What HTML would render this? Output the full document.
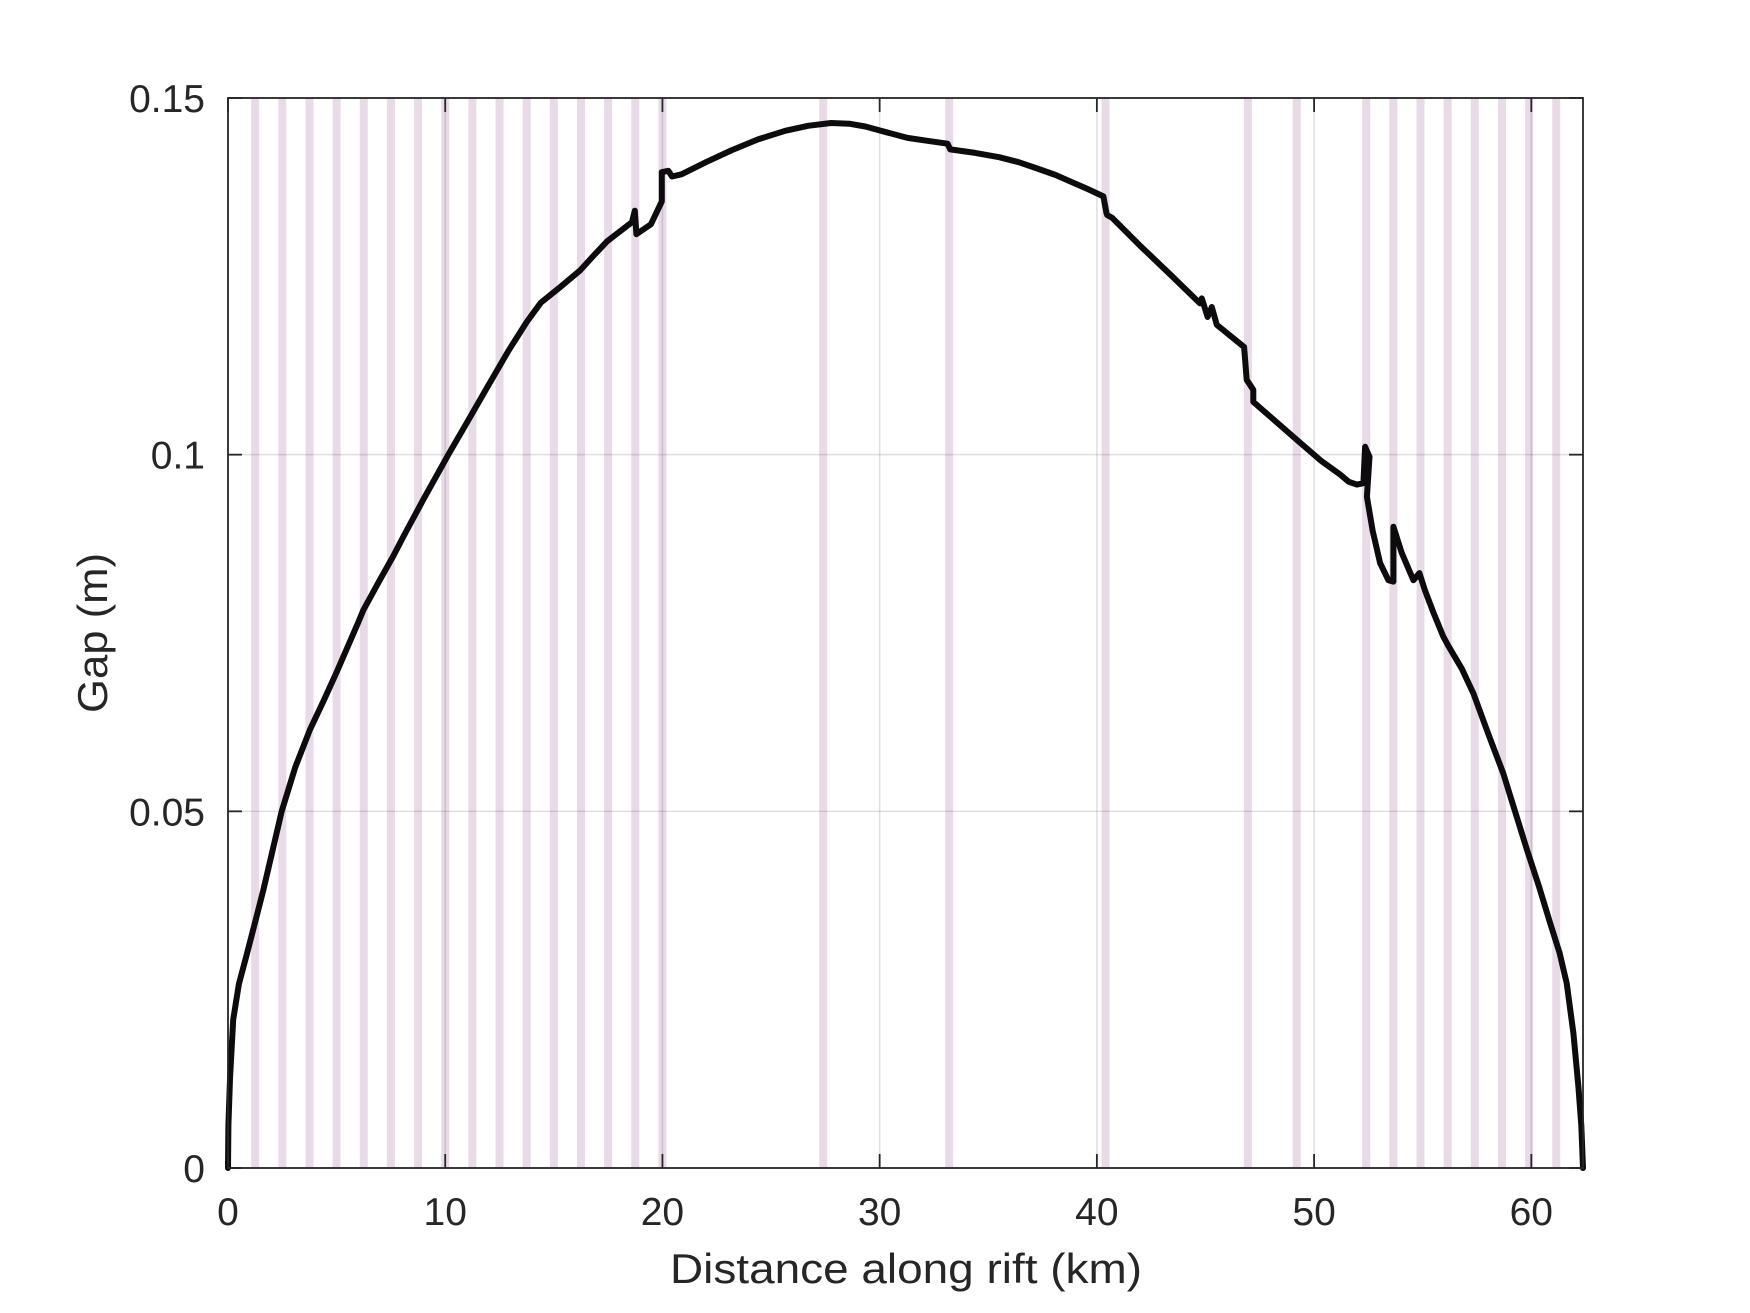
<!DOCTYPE html>
<html><head><meta charset="utf-8"><style>
html,body{margin:0;padding:0;background:#fff;}
svg{display:block;}
text{font-family:"Liberation Sans",sans-serif;fill:#262626;}
</style></head><body>
<svg id="chart" width="1750" height="1313" viewBox="0 0 1750 1313" xmlns="http://www.w3.org/2000/svg">
<rect x="0" y="0" width="1750" height="1313" fill="#fff"/>
<g id="bands"></g>
<g id="grid"></g>
<g id="series"></g>
<g id="axes"></g>
<text x="906" y="1283" font-size="42" text-anchor="middle" textLength="472" lengthAdjust="spacingAndGlyphs">Distance along rift (km)</text>
<text x="0" y="0" font-size="42" text-anchor="middle" textLength="160" lengthAdjust="spacingAndGlyphs" transform="translate(107,633) rotate(-90)">Gap (m)</text>
</svg>
<script>
const xTicks = [0, 10, 20, 30, 40, 50, 60];
const xTickLabels = ["0", "10", "20", "30", "40", "50", "60"];
const yTicks = [0, 0.05, 0.1, 0.15];
const yTickLabels = ["0", "0.05", "0.1", "0.15"];
const bandPositions = [1.25,2.5,3.75,5,6.25,7.5,8.75,10,11.25,12.5,13.75,15,16.25,17.5,18.75,20,27.4,33.2,40.4,46.95,49.2,52.4,53.65,54.9,56.15,57.4,58.65,59.9,61.15];
const distanceKm = [0,0.02,0.09,0.24,0.5,0.86,1.25,1.63,2.47,3.1,3.78,4.4,5.0,6.0,6.23,7.0,7.61,8.07,8.99,10.14,11.0,12.0,12.9,13.75,14.4,15.3,16.2,16.8,17.45,18.0,18.6,18.73,18.8,19.47,19.97,19.97,20.27,20.44,20.88,22.0,23.2,24.4,25.65,26.7,27.76,28.6,29.34,30.3,31.28,32.2,33.13,33.25,34.4,35.5,36.4,37.27,38.1,38.86,39.6,40.3,40.44,40.47,40.7,41.99,43.4,44.75,44.83,45.1,45.29,45.52,46.78,46.9,47.2,47.2,49.2,50.3,51.2,51.6,51.97,52.27,52.35,52.55,52.43,52.7,53.04,53.42,53.65,53.65,54.04,54.57,54.85,55.1,55.5,55.95,56.18,56.8,57.34,58.0,58.71,59.25,59.8,60.35,60.87,61.3,61.63,61.94,62.17,62.3,62.38];
const gapM = [0,0.006,0.0125,0.0208,0.0258,0.0299,0.0345,0.039,0.05,0.0562,0.0615,0.0655,0.0695,0.0765,0.0782,0.0825,0.0858,0.0885,0.0937,0.1,0.1045,0.1098,0.1145,0.1186,0.1213,0.1235,0.1258,0.1278,0.1299,0.1312,0.1326,0.1342,0.1309,0.1323,0.1355,0.1396,0.1398,0.139,0.1393,0.141,0.1427,0.1442,0.1454,0.1461,0.1465,0.1464,0.146,0.1452,0.1444,0.144,0.1436,0.1428,0.1423,0.1417,0.141,0.1401,0.1392,0.1382,0.1372,0.1362,0.1339,0.1336,0.1332,0.1293,0.1252,0.1212,0.1219,0.1193,0.1207,0.1182,0.1151,0.1105,0.1091,0.1074,0.1021,0.0992,0.0972,0.0962,0.0958,0.096,0.1011,0.0997,0.0941,0.0893,0.0848,0.0824,0.0822,0.0899,0.0862,0.0824,0.0834,0.081,0.0778,0.0745,0.0732,0.07,0.0665,0.061,0.0553,0.05,0.0446,0.0395,0.0343,0.0302,0.0259,0.0189,0.0114,0.006,0];

const L=228, R=1583, T=98, B=1168, XMAX=62.38, YMAX=0.15;
function sx(v){return L+(v/XMAX)*(R-L);}
function sy(v){return B-(v/YMAX)*(B-T);}
const NS="http://www.w3.org/2000/svg";
function mk(tag, attrs, parent){const e=document.createElementNS(NS,tag);for(const k in attrs)e.setAttribute(k,attrs[k]);parent.appendChild(e);return e;}

const bands=document.getElementById('bands');
bandPositions.forEach(function(b){
  const r=mk('rect',{x:sx(b)-4,y:T,width:8,height:B-T,fill:'#e8dae7'},bands);
  
  
});
const grid=document.getElementById('grid');
xTicks.forEach(function(t){
  const l=mk('line',{x1:sx(t),x2:sx(t),y1:T,y2:B,stroke:'#262626','stroke-opacity':0.15,'stroke-width':1.5},grid);
  
  
});
yTicks.forEach(function(t){
  const l=mk('line',{x1:L,x2:R,y1:sy(t),y2:sy(t),stroke:'#262626','stroke-opacity':0.15,'stroke-width':1.5},grid);
  
  
});
const series=document.getElementById('series');
let d='';
distanceKm.forEach(function(x,i){d+=(i?'L':'M')+sx(x).toFixed(1)+','+sy(gapM[i]).toFixed(1);});
const p=mk('path',{d:d,fill:'none',stroke:'#0d0b0d','stroke-width':6,'stroke-linejoin':'round','stroke-linecap':'round'},series);



const axes=document.getElementById('axes');
const box=mk('rect',{x:L,y:T,width:R-L,height:B-T,fill:'none',stroke:'#262626','stroke-width':1.8},axes);


xTicks.forEach(function(t,i){
  const x=sx(t);
  mk('line',{x1:x,x2:x,y1:B,y2:B-14,stroke:'#262626','stroke-width':1.8},axes);
  mk('line',{x1:x,x2:x,y1:T,y2:T+14,stroke:'#262626','stroke-width':1.8},axes);
  const tx=mk('text',{x:x,y:1225,'font-size':39,'text-anchor':'middle'},axes);
  tx.textContent=xTickLabels[i];
  
  
});
yTicks.forEach(function(t,i){
  const y=sy(t);
  mk('line',{x1:L,x2:L+14,y1:y,y2:y,stroke:'#262626','stroke-width':1.8},axes);
  mk('line',{x1:R,x2:R-14,y1:y,y2:y,stroke:'#262626','stroke-width':1.8},axes);
  const tx=mk('text',{x:205,y:y+14,'font-size':39,'text-anchor':'end'},axes);
  tx.textContent=yTickLabels[i];
  
  
});
</script>
</body></html>
